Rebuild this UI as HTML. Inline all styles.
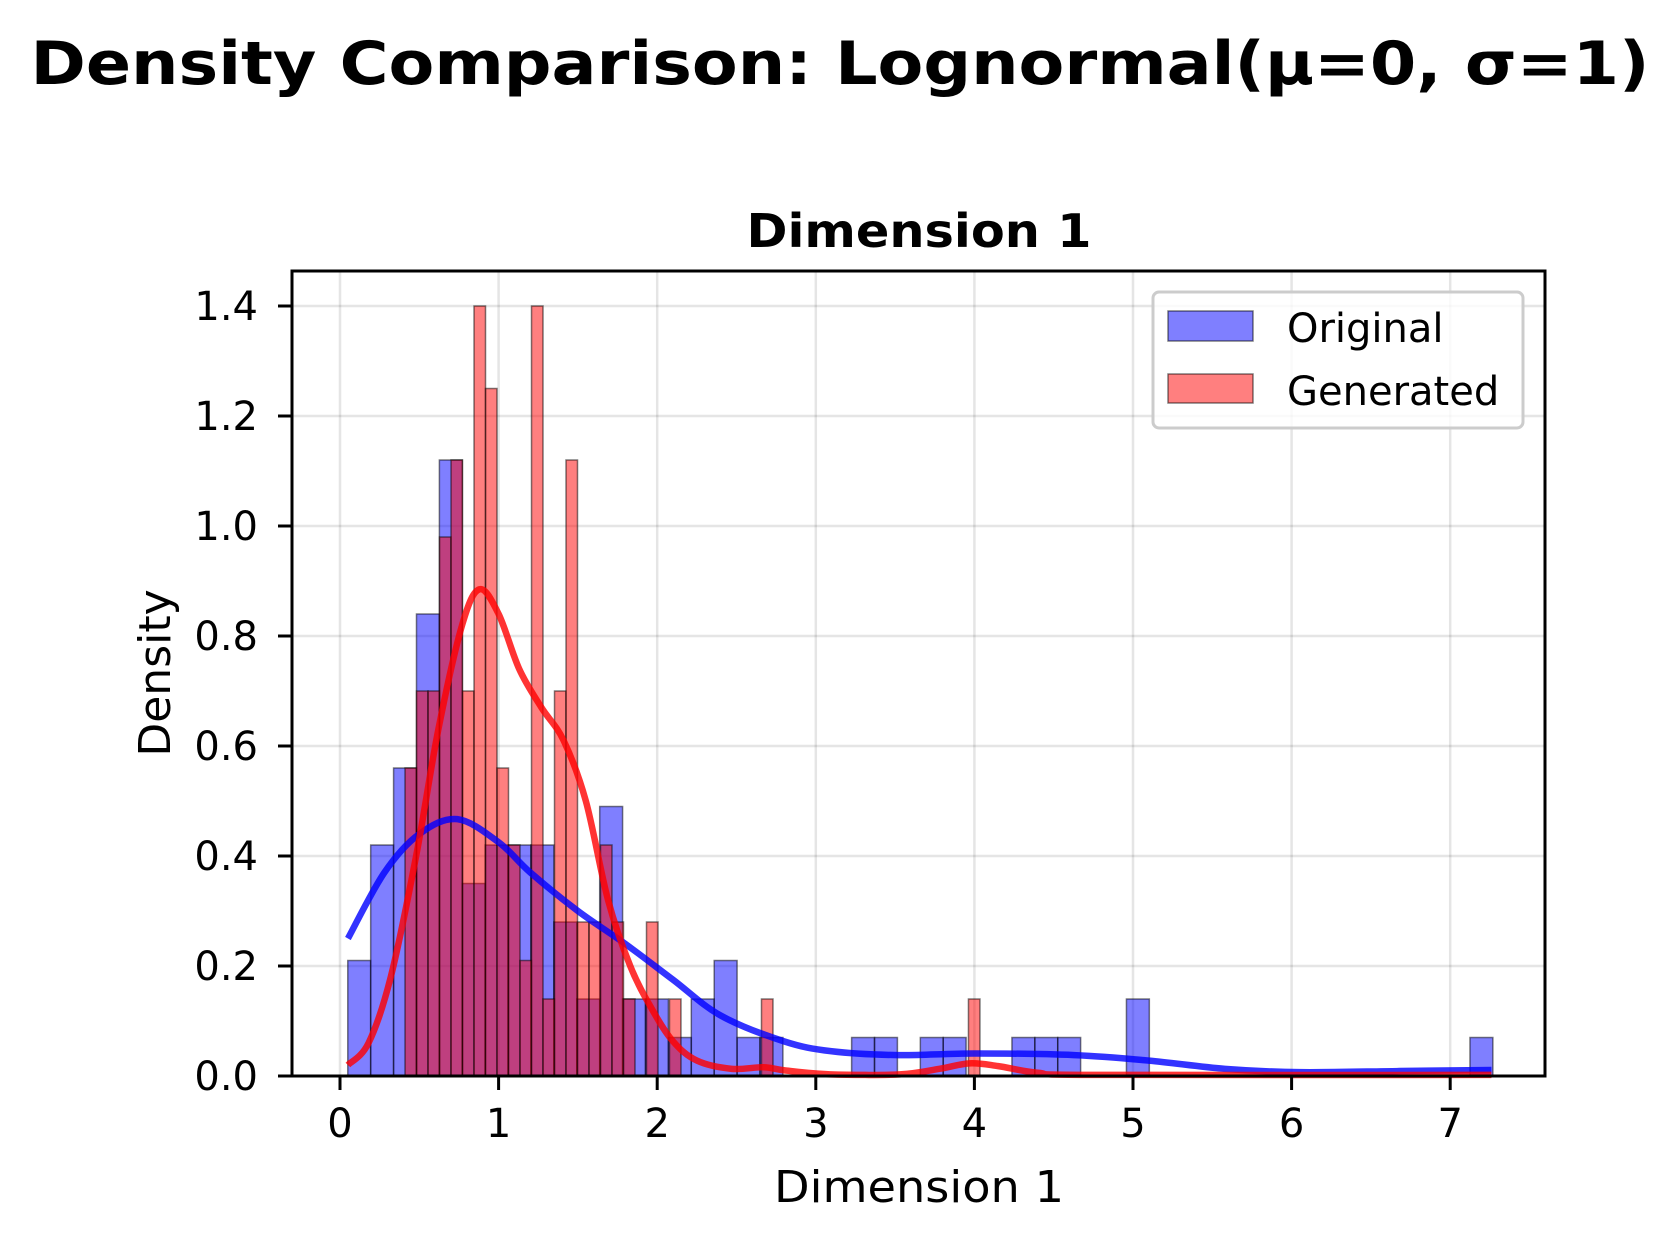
<!DOCTYPE html>
<html><head><meta charset="utf-8"><style>
html,body{margin:0;padding:0;background:#fff;}
svg{display:block;font-family:"DejaVu Sans","Liberation Sans",sans-serif;}
</style></head><body>
<svg id="chart" width="1678" height="1238" viewBox="0 0 1678 1238" xmlns="http://www.w3.org/2000/svg">
<rect width="1678" height="1238" fill="#fff"/>
<text x="840" y="84" text-anchor="middle" font-size="60" font-weight="bold" textLength="1619" lengthAdjust="spacingAndGlyphs">Density Comparison: Lognormal(μ=0, σ=1)</text>
<text x="919" y="247" text-anchor="middle" font-size="46" font-weight="bold" textLength="345" lengthAdjust="spacingAndGlyphs">Dimension 1</text>
<g id="grid"></g>
<g id="bars-blue"></g>
<g id="bars-red"></g>
<g id="curves"></g>
<g id="axes"></g>
<text x="919" y="1202" text-anchor="middle" font-size="44" textLength="290" lengthAdjust="spacingAndGlyphs">Dimension 1</text>
<text transform="translate(170,673) rotate(-90)" text-anchor="middle" font-size="44">Density</text>
<g>
<rect x="1153" y="292" width="370" height="136" rx="6" fill="#fff" fill-opacity="0.8" stroke="#ccc" stroke-width="3"/>
<rect x="1168" y="311" width="85" height="30" fill="#0000ff" fill-opacity="0.5" stroke="#000" stroke-opacity="0.5" stroke-width="1.5"/>
<text x="1287" y="342" font-size="40">Original</text>
<rect x="1168" y="374" width="85" height="29" fill="#ff0000" fill-opacity="0.5" stroke="#000" stroke-opacity="0.5" stroke-width="1.5"/>
<text x="1287" y="405" font-size="40">Generated</text>
</g>
</svg>
<script>
const xTicks=[0,1,2,3,4,5,6,7];
const yTicks=[0,0.2,0.4,0.6,0.8,1.0,1.2,1.4];
const yTickLabels=["0.0","0.2","0.4","0.6","0.8","1.0","1.2","1.4"];
const blueStart=0.049, blueWidth=0.1444;
const blueDensity=[0.21,0.42,0.56,0.84,1.12,0.35,0.42,0.42,0.42,0.28,0.14,0.49,0.14,0.14,0.07,0.14,0.21,0.07,0.07,0,0,0,0.07,0.07,0,0.07,0.07,0,0,0.07,0.07,0.07,0,0,0.14,0,0,0,0,0,0,0,0,0,0,0,0,0,0,0.07];
const redStart=0.41, redWidth=0.0725;
const redDensity=[0.56,0.70,0.70,0.98,1.12,0.70,1.40,1.25,0.56,0.42,0.21,1.40,0.14,0.70,1.12,0.28,0.28,0.42,0.28,0.14,0,0.28,0,0.14,0,0,0,0,0,0,0,0.14,0,0,0,0,0,0,0,0,0,0,0,0,0,0,0,0,0,0.14];
const blueKdeX=[0.05,0.28,0.5,0.74,1.0,1.2,1.5,1.8,2.1,2.4,2.8,3.1,3.52,4.0,4.63,5.1,5.58,6.05,6.68,7.26];
const blueKdeY=[0.25,0.37,0.44,0.467,0.425,0.37,0.30,0.24,0.175,0.11,0.063,0.045,0.038,0.041,0.038,0.028,0.013,0.007,0.009,0.011];
const redKdeX=[0.05,0.18,0.32,0.48,0.62,0.77,0.88,1.0,1.13,1.27,1.41,1.55,1.69,1.83,1.97,2.10,2.25,2.47,2.67,2.81,3.09,3.53,3.78,3.97,4.15,4.40,4.78,7.26];
const redKdeY=[0.02,0.06,0.18,0.40,0.63,0.82,0.885,0.84,0.74,0.67,0.61,0.50,0.32,0.20,0.12,0.063,0.028,0.013,0.016,0.01,0.003,0.003,0.013,0.023,0.018,0.006,0.002,0.002];

const L=292,R=1545,T=271,B=1076;
const X=v=>340+v*158.6;
const Y=v=>B-v*550;
const NS="http://www.w3.org/2000/svg";
function mk(tag,parent){const e=document.createElementNS(NS,tag);parent.appendChild(e);return e;}
const grid=document.getElementById('grid');
xTicks.forEach(t=>{const l=mk('line',grid);


l.setAttribute('x1',X(t));l.setAttribute('x2',X(t));l.setAttribute('y1',T);l.setAttribute('y2',B);l.setAttribute('stroke','#000');l.setAttribute('stroke-opacity','0.1');l.setAttribute('stroke-width','2.5');});
yTicks.forEach(t=>{const l=mk('line',grid);


l.setAttribute('x1',L);l.setAttribute('x2',R);l.setAttribute('y1',Y(t));l.setAttribute('y2',Y(t));l.setAttribute('stroke','#000');l.setAttribute('stroke-opacity','0.1');l.setAttribute('stroke-width','2.5');});
function bars(gid,start,w,vals,color,name){const g=document.getElementById(gid);
vals.forEach((v,i)=>{if(v<=0)return;const r=mk('rect',g);


const x0=X(start+i*w),x1=X(start+(i+1)*w);
r.setAttribute('x',x0);r.setAttribute('width',x1-x0);r.setAttribute('y',Y(v));r.setAttribute('height',B-Y(v));
r.setAttribute('fill',color);r.setAttribute('fill-opacity','0.5');r.setAttribute('stroke','#000');r.setAttribute('stroke-opacity','0.5');r.setAttribute('stroke-width','1.5');});}
bars('bars-blue',blueStart,blueWidth,blueDensity,'#0000ff','original-bar');
bars('bars-red',redStart,redWidth,redDensity,'#ff0000','generated-bar');
function curve(xs,ys,color,name){const p=mk('path',document.getElementById('curves'));


const pts=xs.map((x,i)=>[X(x),Y(ys[i])]);
let d='M'+pts[0][0]+','+pts[0][1];
for(let i=0;i<pts.length-1;i++){const p0=pts[Math.max(0,i-1)],p1=pts[i],p2=pts[i+1],p3=pts[Math.min(pts.length-1,i+2)];
const c1=[p1[0]+(p2[0]-p0[0])/6,p1[1]+(p2[1]-p0[1])/6],c2=[p2[0]-(p3[0]-p1[0])/6,p2[1]-(p3[1]-p1[1])/6];
d+=' C'+c1+' '+c2+' '+p2;}
p.setAttribute('d',d);p.setAttribute('fill','none');p.setAttribute('stroke',color);p.setAttribute('stroke-opacity','0.8');p.setAttribute('stroke-width','6.5');}
curve(blueKdeX,blueKdeY,'#0000ff','original-kde-line');
curve(redKdeX,redKdeY,'#ff0000','generated-kde-line');
const ax=document.getElementById('axes');
const fr=mk('rect',ax);


fr.setAttribute('x',L);fr.setAttribute('y',T);fr.setAttribute('width',R-L);fr.setAttribute('height',B-T);fr.setAttribute('fill','none');fr.setAttribute('stroke','#000');fr.setAttribute('stroke-width','3');
xTicks.forEach(t=>{const l=mk('line',ax);


l.setAttribute('x1',X(t));l.setAttribute('x2',X(t));l.setAttribute('y1',B);l.setAttribute('y2',B+14);l.setAttribute('stroke','#000');l.setAttribute('stroke-width','3');
const tx=mk('text',ax);


tx.setAttribute('x',X(t));tx.setAttribute('y',1137);tx.setAttribute('text-anchor','middle');tx.setAttribute('font-size','40');tx.textContent=String(t);});
yTicks.forEach((t,i)=>{const l=mk('line',ax);


l.setAttribute('x1',L-14);l.setAttribute('x2',L);l.setAttribute('y1',Y(t));l.setAttribute('y2',Y(t));l.setAttribute('stroke','#000');l.setAttribute('stroke-width','3');
const tx=mk('text',ax);


tx.setAttribute('x',258);tx.setAttribute('y',Y(t)+14);tx.setAttribute('text-anchor','end');tx.setAttribute('font-size','40');tx.textContent=yTickLabels[i];});
</script>
</body></html>
